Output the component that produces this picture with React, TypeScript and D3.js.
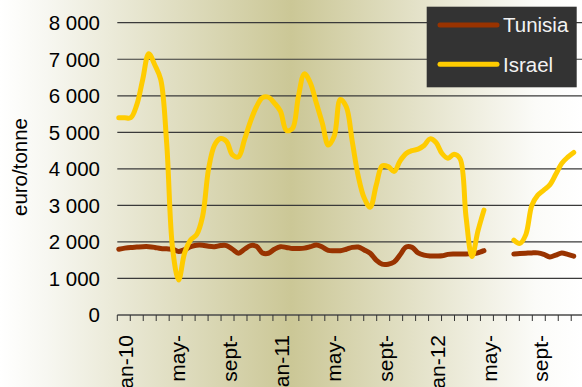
import React from "react";
import * as d3 from "d3";

// biweekly observations, jan-2010 .. dec-2012 (null = no quotation)
const tunisia: (number | null)[] = [
  1800, 1830, 1850, 1860, 1870, 1870, 1850, 1820, 1810, 1800,
  1740, 1790, 1870, 1910, 1910, 1880, 1870, 1900, 1900, 1800,
  1690, 1800, 1900, 1880, 1700, 1690, 1800, 1870, 1850, 1820,
  1820, 1830, 1870, 1915, 1860, 1770, 1760, 1760, 1800, 1850,
  1860, 1780, 1690, 1500, 1390, 1390, 1450, 1650, 1860, 1850,
  1700, 1640, 1615, 1615, 1620, 1660, 1670, 1670, 1670, 1680,
  1700, 1760, null, null, null, null, 1670, 1680, 1690, 1700,
  1700, 1660, 1590, 1640, 1700, 1660, 1610,
];

const israel: (number | null)[] = [
  5400, 5400, 5400, 5750, 6450, 7150, 6850, 6450, 4700, 1800,
  960, 1700, 2050, 2200, 2700, 4000, 4650, 4830, 4750, 4380,
  4330, 4800, 5300, 5700, 5950, 5960, 5800, 5580, 5050, 5100,
  5975, 6600, 6350, 5800, 5250, 4650, 4900, 5900, 5700, 4750,
  3800, 3200, 2950, 3550, 4080, 4060, 3930, 4220, 4420, 4500,
  4540, 4640, 4820, 4720, 4420, 4290, 4400, 4280, 2700, 1600,
  2300, 2870, null, null, null, null, 2050, 1960, 2200, 3000,
  3280, 3420, 3560, 3850, 4150, 4320, 4450,
];

const monthLabels = ["jan-10", "may-", "sept-", "jan-11", "may-", "sept-", "jan-12", "may-", "sept-"];
const yTicks = [0, 1000, 2000, 3000, 4000, 5000, 6000, 7000, 8000];
const seriesNames = ["Tunisia", "Israel"];
const seriesColors = ["#993300", "#FFCC00"];

const W = 582;
const H = 387;
const FONT = "'Liberation Sans', Arial, sans-serif";

const x = d3.scaleLinear().domain([0, 78]).range([117.3, 584.2]);
const y = d3.scaleLinear().domain([0, 8000]).range([315, 22.7]);
const monthX = (m: number) => x((m * 78) / 36);

const line = d3
  .line<number | null>()
  .defined((d) => d != null)
  .x((_, i) => x(i + 0.25))
  .y((d) => y(d as number))
  .curve(d3.curveCatmullRom.alpha(0.5));

const fmt = (v: number) => (v >= 1000 ? `${Math.floor(v / 1000)} 000` : `${v}`);

export default function App() {
  return (
    <div style={{ position: "fixed", left: 0, top: 0, width: W, height: H, overflow: "hidden" }}>
      <svg width={W} height={H} style={{ display: "block", fontFamily: FONT }}>
        <defs>
          <linearGradient id="bg" x1="0" x2="1" y1="0" y2="0">
            <stop offset="0" stopColor="#ffffff" />
            <stop offset="0.08" stopColor="#f7f7f1" />
            <stop offset="0.5" stopColor="#cbc796" />
            <stop offset="0.92" stopColor="#fbfbf8" />
            <stop offset="1" stopColor="#ffffff" />
          </linearGradient>
        </defs>
        <rect x={0} y={0} width={W} height={H} fill="url(#bg)" />

        {/* gridlines */}
        {yTicks.slice(1).map((t) => (
          <line key={t} x1={x(0)} x2={W + 4} y1={y(t)} y2={y(t)} stroke="#3a3a3a" strokeWidth={1.2} />
        ))}

        {/* y labels */}
        {yTicks.map((t) => (
          <text key={t} x={100} y={y(t)} dy="0.36em" textAnchor="end" fontSize={20.5} fill="#000">
            {fmt(t)}
          </text>
        ))}
        <text transform={`translate(20,167) rotate(-90)`} dy="0.36em" textAnchor="middle" fontSize={20.5} fill="#000">
          euro/tonne
        </text>

        {/* x axis */}
        <line x1={x(0)} x2={W + 4} y1={y(0)} y2={y(0)} stroke="#4a4a4a" strokeWidth={1.5} />
        {d3.range(37).map((m) => (
          <line key={m} x1={monthX(m)} x2={monthX(m)} y1={y(0)} y2={y(0) + 6} stroke="#333" strokeWidth={1} />
        ))}
        {monthLabels.map((l, k) => (
          <text
            key={k}
            transform={`translate(${monthX(k * 4) + 8.5},335) rotate(-90)`}
            dy="0.36em"
            textAnchor="end"
            fontSize={21}
            fill="#000"
          >
            {l}
          </text>
        ))}

        {/* series */}
        {[tunisia, israel].map((s, k) => (
          <path
            key={k}
            d={line(s) || ""}
            fill="none"
            stroke={seriesColors[k]}
            strokeWidth={5}
            strokeLinecap="round"
            strokeLinejoin="round"
          />
        ))}

        {/* legend */}
        <rect x={426.7} y={6.7} width={150} height={80.6} fill="#333333" />
        {seriesNames.map((n, k) => (
          <g key={n} transform={`translate(0,${25 + k * 39.3})`}>
            <line x1={440} x2={497} y1={0} y2={0} stroke={seriesColors[k]} strokeWidth={5} strokeLinecap="round" />
            <text x={503} y={0} dy="0.36em" fontSize={20.5} fill="#f2f2f2">
              {n}
            </text>
          </g>
        ))}
      </svg>
    </div>
  );
}
